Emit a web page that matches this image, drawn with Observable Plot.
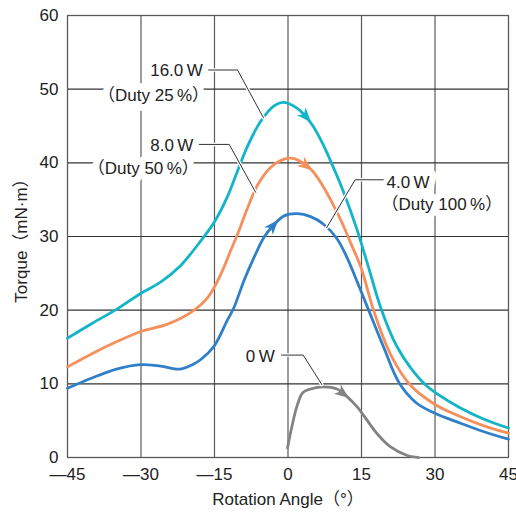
<!DOCTYPE html>
<html>
<head>
<meta charset="utf-8">
<script src="https://cdn.jsdelivr.net/npm/d3@7"></script>
<script src="https://cdn.jsdelivr.net/npm/@observablehq/plot@0.6"></script>
<style>
  html, body { margin: 0; padding: 0; background: #fff; }
  #chart svg { display: block; }
</style>
</head>
<body>
<div id="chart"></div>
<script>
// ---- data ----
const angleTicks = [-45, -30, -15, 0, 15, 30, 45];
const torqueTicks = [0, 10, 20, 30, 40, 50, 60];

const torque16W = [[-45,16.2],[-40,18.2],[-35,20.1],[-30,22.3],[-26,23.8],[-22,26.0],[-17.8,29.4],[-15,32.0],[-12.5,35.2],[-10.3,38.9],[-8.3,42.2],[-5.6,45.6],[-2.9,47.7],[-0.8,48.2],[1.9,47.4],[3.5,46.4],[5,45.1],[7,42.7],[9.7,38.7],[11.3,36.1],[14,31.1],[16,26.8],[19.1,20.0],[22.2,15.1],[25,12.2],[28,9.9],[30.3,8.7],[35,6.8],[40,5.2],[45,4.0]];
const torque8W = [[-45,12.3],[-40,14.1],[-35,15.7],[-30,17.1],[-24.6,18.1],[-19.8,19.7],[-16.4,21.7],[-13.7,24.9],[-11.7,28.1],[-10.3,30.3],[-8.3,33.8],[-6.2,37.0],[-3.5,39.4],[-0.8,40.5],[1,40.6],[3,40.0],[5,38.9],[7,37.0],[9,34.6],[11,31.9],[13,28.8],[15,25.6],[17.5,19.9],[21,13.9],[25,9.8],[30,7.2],[35,5.6],[40,4.3],[45,3.3]];
const torque4W = [[-45,9.4],[-40,10.8],[-35,12.0],[-30,12.6],[-26,12.4],[-22,12.0],[-19.5,12.6],[-17.8,13.3],[-15.1,15.1],[-12.4,18.6],[-11,20.4],[-9,24.0],[-6.9,27.2],[-4.9,29.9],[-3,31.5],[-0.8,32.8],[1.9,33.1],[4.6,32.7],[7.2,31.7],[10,29.7],[12,27.2],[14.7,22.9],[16.7,19.6],[19.5,15.0],[22.8,10.0],[26.2,7.4],[30,6.0],[35,4.7],[40,3.5],[45,2.5]];
const torque0W = [[-0.1,1.3],[0.8,4.2],[1.8,6.9],[3,8.8],[4.6,9.3],[7.3,9.6],[10,9.3],[12,8.3],[14.2,6.8],[16.2,5.0],[18.1,3.3],[20.8,1.5],[24.2,0.3],[26.6,0]];

const seriesNames = ["16.0 W", "8.0 W", "4.0 W", "0 W"];
const seriesData = [torque16W, torque8W, torque4W, torque0W];
const seriesColors = ["#12b4c8", "#f58f5c", "#2f80c9", "#838383"];
const arrowAngles = [3.5, 3.5, -3.2, 11];   // rotation angle where each arrow sits

// annotation labels (text, anchor point in data units, text anchor)
const labelTexts = ["16.0\u2009W", "（Duty 25\u2009%）", "8.0\u2009W", "（Duty 50\u2009%）", "4.0\u2009W", "（Duty 100\u2009%）", "0\u2009W"];
const labelX = [-17.4, -16.1, -19.3, -18.2, 20.1, 19.1, -8.6];
const labelY = [52.5, 49.1, 42.3, 39.2, 37.3, 34.3, 13.7];
const labelAnchor = ["end", "end", "end", "end", "start", "start", "start"];

const leader16W = [[-16.2,52.6],[-10.3,52.6],[-5.0,46.1]];
const leader8W = [[-18.1,42.5],[-12.0,42.5],[-6.6,36.0]];
const leader4W = [[19.45,37.7],[13.7,37.7],[7.9,31.2]];
const leader0W = [[-1.3,13.9],[3.1,13.9],[6.9,9.9]];
const leaders = [leader16W, leader8W, leader4W, leader0W];

// ---- layout ----
const W = 516, H = 514, ML = 67, MR = 8, MT = 15, MB = 57;
const kx = (W - ML - MR) / 90, ky = (H - MT - MB) / 60;
const FONT = "'Liberation Sans', Arial, 'Noto Sans CJK JP', sans-serif";

function interp(pts, x) {
  for (let i = 1; i < pts.length; i++) {
    if (x <= pts[i][0]) {
      const [x0, y0] = pts[i - 1], [x1, y1] = pts[i];
      return y0 + (y1 - y0) * (x - x0) / (x1 - x0);
    }
  }
  return pts[pts.length - 1][1];
}
function arrowSymbol(theta) {
  const c = Math.cos(theta), s = Math.sin(theta);
  return {
    draw(ctx, size) {
      const r = Math.sqrt(size / Math.PI);
      const pts = [[0, -1.1], [0.72, 0.72], [0, 0.22], [-0.72, 0.72]].map(([px, py]) => [
        (px * c - py * s) * r, (px * s + py * c) * r]);
      ctx.moveTo(pts[0][0], pts[0][1]);
      for (let i = 1; i < pts.length; i++) ctx.lineTo(pts[i][0], pts[i][1]);
      ctx.closePath();
    }
  };
}

const lineRows = seriesData.flatMap((pts, i) => pts.map(([x, y]) => ({x, y, s: seriesNames[i]})));
const labels = labelTexts.map((t, i) => ({t, x: labelX[i], y: labelY[i], a: labelAnchor[i]}));
const leaderRows = leaders.flatMap((pts, i) => pts.map(([x, y]) => ({x, y, k: i})));

const arrowMarks = seriesData.map((pts, i) => {
  const ax = arrowAngles[i];
  const ay = interp(pts, ax);
  const dy = interp(pts, ax + 0.8) - interp(pts, ax - 0.8);
  const theta = Math.atan2(kx * 1.6, ky * dy);
  return Plot.dot([{x: ax, y: ay}], {x: "x", y: "y", r: 8, symbol: arrowSymbol(theta), fill: seriesColors[i], stroke: "none"});
});

const labelStart = labels.filter(d => d.a === "start");
const labelEnd = labels.filter(d => d.a === "end");

const chart = Plot.plot({
  width: W, height: H,
  marginLeft: ML, marginRight: MR, marginTop: MT, marginBottom: MB,
  style: {fontFamily: FONT, fontSize: "17px", color: "#222", background: "#fff"},
  x: {domain: [-45, 45]},
  y: {domain: [0, 60]},
  color: {domain: seriesNames, range: seriesColors},
  marks: [
    Plot.gridX(angleTicks.slice(1, -1), {stroke: "#5a5a5a", strokeOpacity: 1, strokeWidth: 1.2}),
    Plot.gridY(torqueTicks.slice(1, -1), {stroke: "#333", strokeOpacity: 1, strokeWidth: 1.2}),
    Plot.frame({stroke: "#5a5a5a", strokeWidth: 1.3}),
    // label halos
    Plot.text(labelEnd, {x: "x", y: "y", text: "t", textAnchor: "end", fill: "white", stroke: "white", strokeWidth: 14, strokeLinejoin: "round"}),
    Plot.text(labelStart, {x: "x", y: "y", text: "t", textAnchor: "start", fill: "white", stroke: "white", strokeWidth: 14, strokeLinejoin: "round"}),
    Plot.line(lineRows, {x: "x", y: "y", z: "s", stroke: "s", strokeWidth: 2.8, curve: "catmull-rom"}),
    Plot.line(leaderRows, {x: "x", y: "y", z: "k", stroke: "white", strokeWidth: 3.5}),
    Plot.line(leaderRows, {x: "x", y: "y", z: "k", stroke: "#333", strokeWidth: 1}),
    Plot.text(labelEnd, {x: "x", y: "y", text: "t", textAnchor: "end", fill: "#222"}),
    Plot.text(labelStart, {x: "x", y: "y", text: "t", textAnchor: "start", fill: "#222"}),
    ...arrowMarks,
    Plot.axisX(angleTicks, {tickSize: 0, tickPadding: 10, label: null,
      tickFormat: d => d < 0 ? "—" + (-d) : String(d), fill: "#222"}),
    Plot.axisY(torqueTicks, {tickSize: 0, tickPadding: 9, label: null, fill: "#222"}),
    Plot.text(["Rotation Angle（°）"], {frameAnchor: "bottom", lineAnchor: "middle", textAnchor: "middle", dy: 42, fill: "#222"}),
    Plot.text(["Torque（mN·m）"], {frameAnchor: "left", rotate: -90, textAnchor: "middle", lineAnchor: "middle", dx: -46, fill: "#222"})
  ]
});
document.getElementById("chart").appendChild(chart);
</script>
</body>
</html>
